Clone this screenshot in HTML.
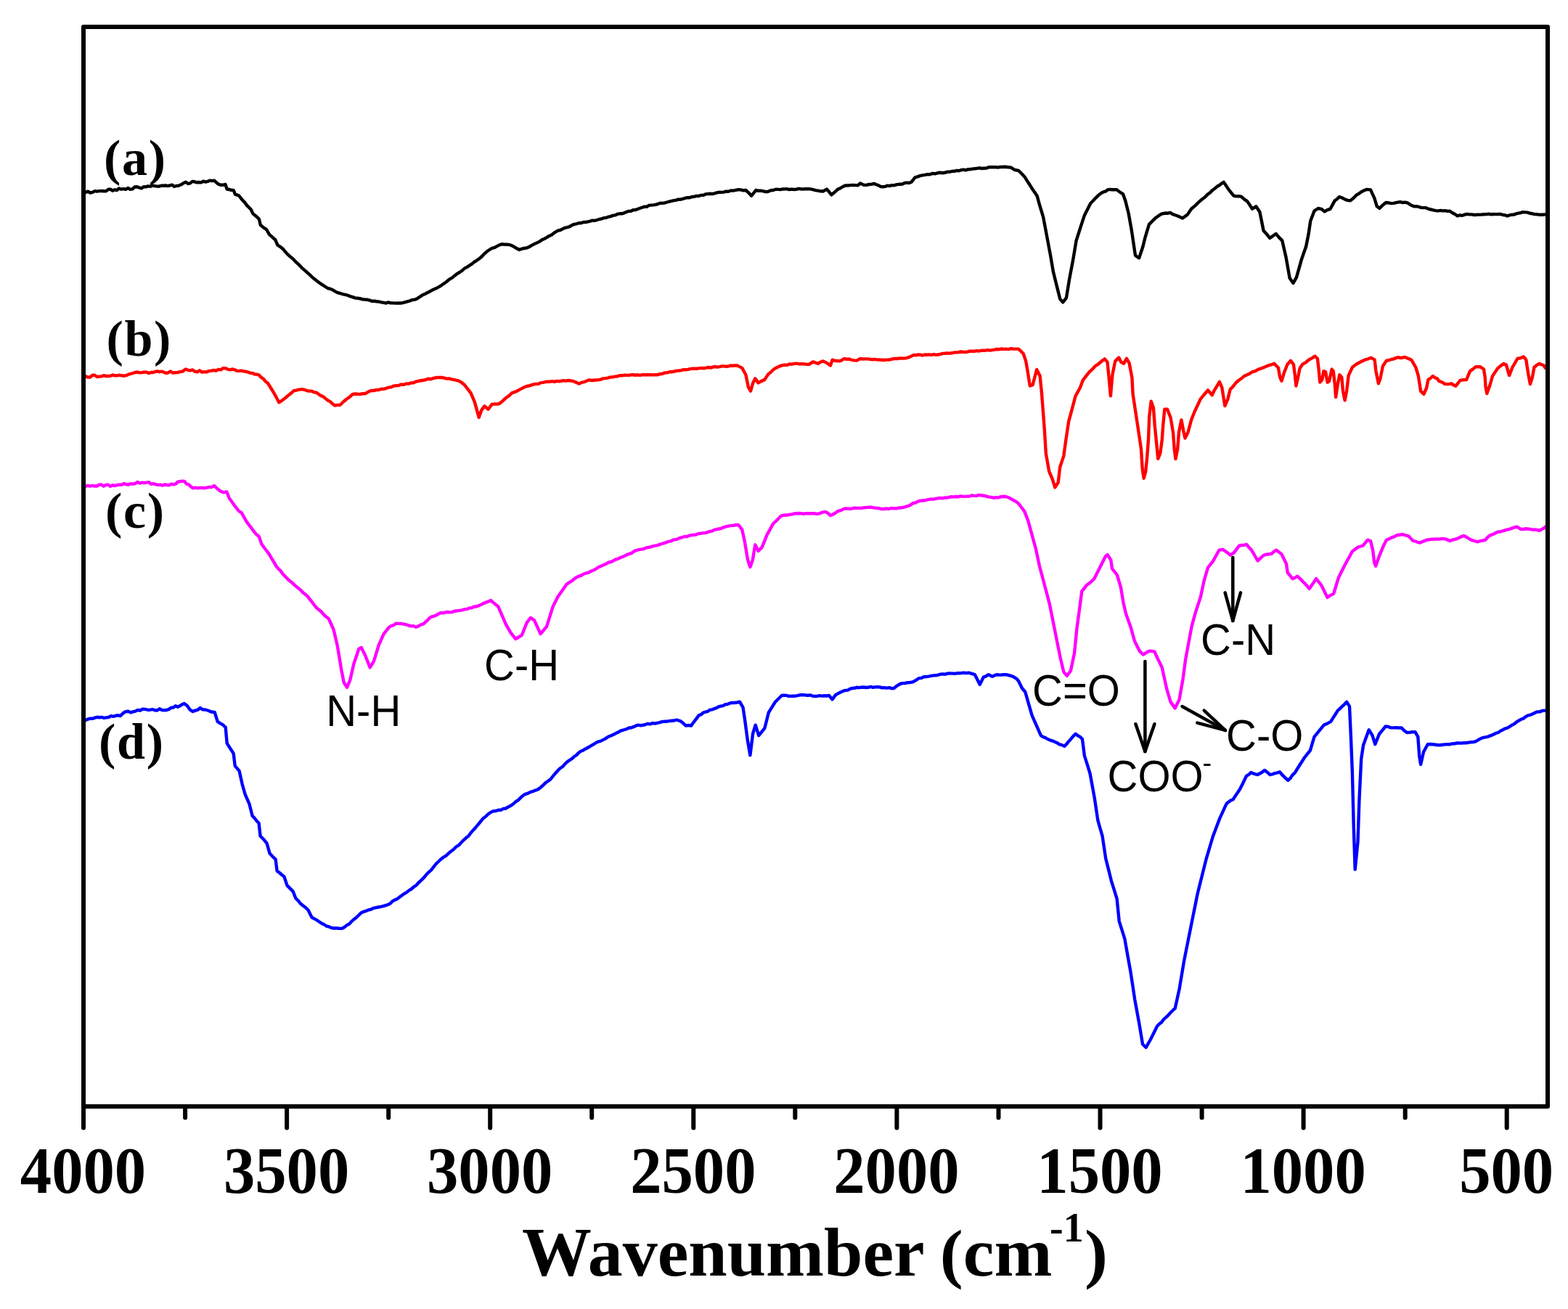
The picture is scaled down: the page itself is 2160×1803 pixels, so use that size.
<!DOCTYPE html>
<html><head><meta charset="utf-8"><style>
html,body{margin:0;padding:0;background:#fff;}
svg{display:block;}
.tl{font-family:"Liberation Serif","Times New Roman",serif;font-weight:bold;font-size:88px;text-anchor:middle;}
.lab{font-family:"Liberation Serif","Times New Roman",serif;font-weight:bold;font-size:70px;letter-spacing:1.7px;}
.ann{font-family:"Liberation Sans",Arial,sans-serif;font-size:58px;}
.ttl{font-family:"Liberation Serif","Times New Roman",serif;font-weight:bold;font-size:96px;}
</style></head><body>
<svg width="2160" height="1803" viewBox="0 0 2160 1803">
<rect x="0" y="0" width="2160" height="1803" fill="#fff"/>
<g fill="none" stroke-width="4.4" stroke-linejoin="round" stroke-linecap="round">
<polyline stroke="#000000" points="118.0,265.0 121.1,263.6 124.3,265.5 127.4,264.9 130.6,263.1 133.7,263.6 136.9,263.1 140.0,263.0 143.0,263.2 146.0,263.4 149.0,261.0 152.0,260.6 155.0,262.7 158.0,261.3 161.0,262.0 164.0,259.5 167.0,260.7 170.1,260.2 173.2,260.8 176.3,259.0 179.4,260.8 182.5,260.4 185.5,257.5 188.6,257.2 191.7,258.4 194.8,259.3 197.9,257.3 201.0,257.4 204.0,256.4 207.0,256.9 210.0,255.6 213.0,256.1 216.0,256.6 219.0,256.7 222.0,255.8 225.0,255.7 228.0,255.5 231.0,256.1 234.0,255.5 237.0,254.6 240.0,256.9 243.0,256.0 246.0,255.7 249.5,254.3 253.0,252.0 256.0,250.8 259.0,253.0 262.0,252.4 265.0,249.9 268.0,250.3 271.0,251.3 274.1,251.0 277.1,251.4 280.1,249.6 283.1,250.6 286.1,249.9 289.1,248.6 292.1,249.2 295.1,248.7 300.3,253.4 303.7,254.7 307.1,254.8 310.5,253.9 312.6,260.5 315.7,261.0 318.7,261.8 321.8,262.1 323.9,267.7 329.0,269.3 334.2,275.9 337.2,278.9 340.3,283.1 345.5,288.3 348.5,294.4 352.6,297.7 356.8,301.6 358.8,309.8 362.9,313.3 367.0,316.0 371.1,323.2 375.2,326.7 379.3,330.4 382.4,337.6 386.0,339.8 389.6,342.7 392.7,346.4 395.8,349.9 399.4,353.2 403.0,356.0 406.6,359.8 410.2,363.2 413.2,366.1 416.3,369.4 419.9,372.4 423.5,375.6 426.9,378.7 430.4,382.1 433.8,384.8 437.9,387.9 442.0,391.0 445.1,392.9 448.3,395.0 451.4,397.0 454.8,397.8 458.3,399.3 461.7,401.4 465.2,403.2 468.6,404.0 472.0,405.1 475.4,405.9 478.9,406.7 482.3,408.1 485.7,409.1 489.1,410.4 492.6,410.8 496.0,411.2 499.5,412.3 502.9,412.6 506.1,412.8 509.3,413.7 512.5,414.8 515.8,414.8 519.0,415.2 522.2,415.5 525.4,416.4 528.6,416.9 531.8,417.5 535.0,416.4 538.2,417.4 541.5,417.4 544.7,417.6 547.9,417.4 551.1,417.5 554.3,417.2 557.7,416.3 561.1,415.4 564.6,414.4 568.0,413.0 571.4,412.6 574.8,411.2 578.3,408.9 581.7,406.6 585.2,405.1 588.6,403.2 592.0,401.5 595.4,399.6 598.9,397.9 602.3,396.4 605.7,394.6 609.1,392.3 612.6,389.9 616.0,387.3 619.5,384.4 622.9,382.6 626.3,379.7 629.7,377.1 633.2,375.0 636.6,372.7 640.0,369.7 643.4,367.8 646.8,365.6 650.3,363.4 653.7,360.5 657.1,358.6 660.5,356.1 664.0,353.0 667.4,349.3 670.9,346.3 674.3,344.0 677.7,341.9 681.1,341.2 684.6,339.1 688.0,337.4 691.4,336.3 694.8,336.7 698.3,336.6 701.7,337.1 705.1,338.3 708.5,340.1 712.0,342.3 715.4,344.0 718.8,342.7 722.3,342.0 725.7,341.4 729.1,340.0 732.6,337.9 736.0,336.1 739.5,334.6 742.9,332.9 746.3,330.4 749.7,329.0 753.2,327.1 756.6,324.9 760.0,323.4 764.3,320.1 768.6,317.7 771.8,317.0 775.0,315.4 778.2,313.8 781.5,313.1 784.7,312.2 787.9,310.1 791.1,308.9 794.3,308.3 797.4,307.2 800.5,307.3 803.7,306.0 806.8,306.0 809.9,305.4 813.0,304.6 816.1,303.6 819.2,303.9 822.4,303.0 825.5,302.0 828.6,301.4 831.7,300.2 834.8,299.9 838.0,298.7 841.1,298.1 844.2,296.9 847.3,296.4 850.4,294.9 853.5,294.3 856.7,294.3 859.8,293.3 862.9,292.0 866.0,290.9 869.1,290.7 872.2,289.2 875.3,289.1 878.4,288.0 881.6,286.8 884.7,285.7 887.8,284.6 890.9,284.8 894.0,282.9 897.1,282.6 900.2,282.4 903.3,281.9 906.5,280.8 909.6,279.7 912.7,279.9 915.8,279.4 918.9,278.5 922.0,277.6 925.2,276.8 928.3,276.1 931.4,275.7 934.5,274.7 937.6,274.7 940.8,273.8 943.9,272.9 947.0,272.1 950.1,272.2 953.2,271.1 956.3,270.8 959.5,269.9 962.6,270.0 965.7,268.9 968.8,268.9 971.9,267.4 975.1,267.1 978.2,266.8 981.3,267.1 984.4,266.4 987.5,265.4 990.6,264.8 993.8,264.9 996.9,264.6 1000.0,263.7 1003.4,263.7 1006.8,262.5 1010.3,262.6 1013.7,261.8 1017.1,261.1 1020.5,261.4 1024.0,262.3 1027.4,262.0 1031.3,265.5 1035.2,269.7 1038.2,265.9 1041.2,262.0 1044.6,262.8 1048.1,262.6 1051.5,263.3 1054.9,264.2 1058.3,263.8 1061.8,262.2 1065.2,262.0 1068.6,260.8 1071.7,260.9 1074.8,261.1 1078.0,260.5 1081.1,260.4 1084.2,260.3 1087.3,261.0 1090.4,260.6 1093.5,261.0 1096.7,260.9 1099.8,259.9 1102.9,260.3 1106.3,260.5 1109.7,260.1 1113.2,260.2 1116.6,260.4 1120.0,261.1 1123.4,262.1 1126.8,262.6 1130.3,263.3 1133.7,263.5 1138.9,260.6 1142.2,264.3 1145.4,268.3 1149.8,264.6 1154.3,260.6 1157.7,259.2 1161.2,257.0 1164.6,255.4 1168.0,255.5 1171.4,255.1 1174.9,254.9 1178.3,255.1 1181.7,255.4 1185.1,252.5 1190.3,254.9 1193.7,254.9 1197.2,254.0 1200.6,253.9 1204.0,252.9 1207.1,254.2 1210.3,255.4 1213.4,257.1 1216.4,257.2 1219.4,256.9 1222.4,255.7 1225.4,256.2 1228.4,255.2 1231.4,255.4 1235.7,254.1 1240.0,253.7 1243.1,253.6 1246.2,252.0 1249.2,251.6 1252.3,252.0 1255.4,250.8 1260.6,244.3 1264.0,243.4 1267.4,242.1 1270.9,241.4 1274.3,240.9 1277.7,240.1 1281.1,240.2 1284.6,238.9 1288.0,239.3 1291.4,238.3 1294.8,237.8 1298.3,238.2 1301.7,237.8 1305.2,236.7 1308.6,236.6 1311.7,235.9 1314.8,235.8 1318.0,234.9 1321.1,235.2 1324.2,234.1 1327.3,233.7 1330.4,234.4 1333.5,233.2 1336.7,233.2 1339.8,232.6 1342.9,232.3 1346.1,231.8 1349.3,231.3 1352.5,232.0 1355.8,231.8 1359.0,231.6 1362.2,230.3 1365.4,230.1 1368.6,230.2 1371.7,230.2 1374.8,230.6 1377.8,230.0 1380.9,230.0 1384.0,229.7 1388.3,230.3 1392.6,230.6 1397.7,234.0 1402.9,234.9 1407.2,238.9 1411.4,243.4 1414.8,248.8 1418.3,254.3 1421.7,259.7 1425.2,264.7 1428.6,269.7 1432.0,282.0 1437.1,298.9 1442.3,326.3 1447.4,353.7 1450.9,374.3 1456.0,394.9 1460.3,412.0 1464.2,416.3 1468.9,410.3 1473.1,384.6 1478.3,357.1 1482.6,331.4 1485.6,322.0 1488.6,312.6 1493.7,297.1 1498.0,288.6 1502.3,280.0 1505.3,277.0 1508.3,273.8 1511.3,270.7 1514.3,268.0 1517.3,265.8 1520.3,264.3 1523.3,263.4 1526.3,261.1 1529.3,261.0 1532.3,261.3 1535.3,261.3 1538.3,261.1 1542.6,264.6 1546.9,267.1 1550.3,276.6 1554.6,293.7 1558.9,317.7 1564.0,352.0 1569.2,355.4 1574.3,340.0 1577.7,326.3 1582.9,309.1 1587.2,304.7 1591.4,300.6 1595.7,297.4 1600.0,294.6 1603.0,294.0 1606.0,293.5 1609.0,293.7 1612.0,292.9 1615.5,295.1 1618.9,296.3 1622.3,297.5 1625.7,299.0 1629.1,300.6 1632.5,298.1 1636.0,295.4 1641.1,287.7 1644.2,285.1 1647.4,282.4 1650.5,279.2 1653.7,276.3 1656.8,273.8 1660.0,271.4 1663.4,267.9 1666.8,265.5 1670.3,261.9 1673.7,259.4 1676.7,256.8 1679.7,255.3 1682.7,252.8 1685.7,250.9 1689.2,256.0 1692.6,261.1 1696.0,265.4 1699.4,269.7 1702.8,270.4 1706.3,270.3 1709.7,270.6 1714.0,274.4 1718.3,277.4 1721.7,282.5 1725.1,287.7 1730.3,284.3 1735.4,292.0 1740.6,317.7 1744.9,322.4 1749.2,328.0 1753.5,325.0 1757.7,322.0 1762.0,327.1 1766.3,331.4 1771.4,353.7 1776.6,382.9 1781.5,390.0 1785.9,382.1 1789.4,369.8 1792.9,357.4 1796.0,348.6 1799.1,339.8 1802.6,322.2 1805.2,304.6 1810.5,290.5 1815.8,287.0 1820.2,287.8 1824.6,291.4 1828.5,289.1 1832.5,287.8 1835.6,282.1 1838.7,276.4 1841.8,274.3 1844.9,271.1 1848.8,272.5 1852.8,274.6 1856.3,275.8 1859.9,276.4 1864.3,273.0 1868.7,268.5 1872.2,266.6 1875.7,264.0 1879.2,262.2 1882.8,260.9 1888.0,261.4 1893.3,272.9 1896.8,284.3 1900.4,286.9 1904.8,282.5 1909.2,279.0 1912.7,279.3 1916.3,280.1 1919.8,279.9 1924.2,278.8 1928.6,278.1 1932.1,279.0 1935.6,278.6 1939.1,279.5 1943.5,282.4 1947.9,284.3 1951.1,284.1 1954.3,284.8 1957.4,285.9 1960.6,286.1 1963.8,286.1 1967.3,287.6 1970.8,288.5 1974.4,289.4 1977.9,290.1 1981.1,290.4 1984.4,289.9 1987.6,290.4 1990.8,290.2 1994.1,290.9 1997.3,290.8 2000.8,293.2 2004.3,295.0 2007.8,297.5 2010.9,296.3 2014.0,296.8 2017.1,295.9 2020.2,294.9 2023.7,295.2 2027.2,295.4 2030.8,296.0 2034.3,295.8 2037.6,295.6 2040.9,295.5 2044.3,295.3 2047.6,295.1 2050.9,294.7 2054.2,295.4 2057.6,295.0 2060.9,295.1 2064.2,294.9 2067.3,295.0 2070.4,296.0 2073.5,296.4 2076.6,297.5 2079.6,296.3 2082.6,295.7 2085.6,295.6 2088.7,294.3 2091.7,293.6 2094.7,293.1 2097.7,292.2 2101.0,292.4 2104.2,292.6 2107.5,293.8 2110.8,294.3 2114.1,295.0 2117.3,295.2 2120.6,295.8 2124.8,295.8 2129.0,295.4"/>
<polyline stroke="#ff0000" points="118.0,518.3 121.1,519.6 124.2,519.5 127.3,516.8 130.4,516.8 133.5,519.0 136.6,518.6 139.7,518.4 142.8,517.2 145.9,518.0 149.0,518.0 152.1,517.8 155.2,516.5 158.3,517.3 161.4,517.4 164.5,516.7 167.6,517.3 170.8,517.7 173.9,517.2 177.0,515.6 180.1,514.9 183.2,514.0 186.3,512.9 189.5,512.5 192.6,513.4 195.7,513.1 198.7,512.5 201.7,512.6 204.8,514.1 207.8,513.0 210.8,513.0 213.8,512.0 216.9,511.3 219.9,512.2 222.9,511.6 225.9,512.7 229.0,514.1 232.0,513.1 235.0,511.5 238.0,513.6 241.1,513.3 244.1,513.1 247.1,512.3 251.4,511.6 255.7,508.5 258.9,509.8 262.1,510.3 265.3,509.5 268.5,511.8 271.8,512.3 275.0,510.3 278.2,512.6 281.4,512.3 284.6,512.4 287.9,511.0 291.1,510.7 294.4,510.0 297.6,510.7 300.9,508.8 304.1,509.3 307.4,507.2 310.6,507.1 313.8,508.7 317.0,509.3 320.2,508.5 323.3,509.3 326.5,510.9 329.7,510.8 332.9,510.6 335.9,511.3 338.9,511.8 341.9,512.6 344.9,513.8 347.9,513.9 350.9,515.6 353.9,515.6 356.9,516.6 359.9,519.9 362.9,521.9 365.9,525.5 368.9,527.7 373.1,534.5 377.4,541.4 380.9,547.8 384.3,554.3 388.6,551.5 392.9,548.3 395.9,545.7 398.9,543.2 401.9,540.8 404.9,538.0 407.9,537.7 410.9,536.9 413.9,536.4 416.9,536.3 420.0,537.0 423.2,538.3 426.3,538.6 429.4,538.7 432.6,540.3 435.7,540.6 438.7,542.8 441.7,544.9 444.7,546.0 447.7,548.3 451.1,551.2 454.5,552.9 458.0,556.2 461.4,558.6 465.0,557.9 468.6,557.7 472.9,553.5 477.1,550.0 481.4,547.0 485.7,543.1 489.1,542.5 492.6,542.8 496.0,543.0 499.5,542.2 502.9,542.3 507.1,539.8 511.4,538.0 514.8,538.0 518.3,537.1 521.7,537.0 525.2,535.8 528.6,535.9 532.0,534.8 535.4,533.6 538.9,533.2 542.3,531.6 545.7,531.1 549.1,531.1 552.6,529.5 556.0,529.9 559.5,528.5 562.9,528.6 566.3,527.4 569.7,527.3 573.2,525.6 576.6,524.8 580.0,524.3 583.4,523.8 586.8,522.8 590.3,521.7 593.7,522.2 597.1,520.9 600.1,520.3 603.2,519.9 606.2,520.0 609.2,520.0 612.6,520.8 616.0,521.6 619.5,521.5 622.9,522.6 627.1,523.3 631.4,524.3 635.7,526.7 640.0,530.3 644.3,535.8 648.6,541.4 653.7,553.4 657.1,565.4 659.7,574.9 663.1,565.4 667.4,559.4 672.6,563.7 677.7,556.9 681.1,556.5 684.6,556.6 688.0,556.0 692.3,552.4 696.6,548.3 700.9,545.3 705.1,541.4 708.5,540.1 712.0,538.7 715.4,536.9 718.8,535.1 722.3,533.2 725.7,532.0 728.9,531.4 732.1,530.3 735.3,529.3 738.5,528.9 741.8,528.7 745.0,527.1 748.2,526.9 751.4,526.0 754.5,525.7 757.6,525.7 760.8,525.1 763.9,525.9 767.0,524.9 770.1,525.2 773.2,524.8 776.3,524.2 779.5,524.7 782.6,524.0 785.7,524.3 788.7,524.8 791.7,525.9 794.7,527.1 797.7,528.6 801.1,526.8 804.5,526.2 808.0,524.7 811.4,523.4 815.7,524.0 820.0,523.5 823.4,523.4 826.8,522.9 830.3,521.4 833.7,521.1 837.1,520.6 840.5,519.6 844.0,519.3 847.4,518.6 850.9,518.2 854.3,517.1 857.3,517.3 860.3,516.7 863.4,516.9 866.4,516.9 869.4,516.3 872.4,516.3 875.5,516.7 878.5,516.3 881.5,516.9 884.5,516.3 887.6,516.1 890.6,516.2 893.6,516.2 896.6,516.1 899.7,516.4 902.7,516.3 905.7,516.3 909.1,515.2 912.6,514.8 916.0,513.4 919.5,513.3 922.9,512.0 926.0,512.2 929.1,511.5 932.2,510.7 935.3,510.5 938.4,510.1 941.6,509.1 944.7,509.2 947.8,508.9 950.9,508.1 954.0,507.6 957.1,507.7 960.2,507.8 963.3,507.1 966.5,507.0 969.6,507.3 972.7,506.7 975.8,506.0 978.9,506.6 982.0,505.7 985.2,505.0 988.3,505.6 991.4,505.1 994.4,504.4 997.4,504.4 1000.4,504.9 1003.4,504.5 1006.4,503.5 1009.4,503.8 1012.4,503.5 1015.4,503.4 1018.8,505.1 1022.3,506.9 1027.4,516.3 1030.9,533.4 1034.0,538.6 1036.9,528.3 1040.3,521.4 1044.6,527.4 1048.9,524.9 1053.2,523.1 1058.3,515.4 1061.7,512.7 1065.2,509.2 1068.6,506.9 1072.8,504.9 1077.1,503.4 1080.5,502.7 1084.0,502.9 1087.4,501.4 1090.9,501.7 1094.3,500.9 1097.7,500.7 1101.2,501.3 1104.6,501.2 1108.0,501.4 1111.5,501.9 1114.9,501.7 1120.0,498.3 1123.5,499.5 1126.9,500.9 1130.3,498.7 1133.7,497.4 1137.1,498.9 1140.6,500.9 1144.0,503.4 1146.6,495.7 1149.7,496.7 1152.9,497.0 1156.0,497.4 1159.5,496.3 1162.9,494.0 1166.3,494.8 1169.7,494.5 1173.2,495.8 1176.6,496.4 1180.0,496.6 1185.1,494.0 1188.3,494.5 1191.6,494.4 1194.8,494.4 1198.1,494.7 1201.3,495.3 1204.6,494.9 1207.8,495.4 1211.1,495.5 1214.3,495.7 1217.4,496.0 1220.5,495.6 1223.7,495.5 1226.8,495.2 1229.9,494.3 1233.0,494.0 1236.1,494.0 1239.2,493.5 1242.4,493.5 1245.5,493.6 1248.6,493.1 1252.0,492.2 1255.5,490.4 1258.9,488.9 1261.9,489.3 1264.9,488.4 1267.9,488.7 1270.9,489.5 1273.9,488.5 1276.9,488.8 1279.9,488.4 1282.9,488.9 1286.0,488.1 1289.1,488.7 1292.2,488.5 1295.3,487.8 1298.4,486.9 1301.6,486.7 1304.7,486.4 1307.8,486.6 1310.9,486.3 1314.0,485.6 1317.1,485.4 1320.2,485.2 1323.3,484.5 1326.5,484.8 1329.6,485.0 1332.7,484.6 1335.8,483.6 1338.9,483.8 1342.0,483.8 1345.2,483.1 1348.3,483.6 1351.4,482.9 1354.5,482.6 1357.6,482.7 1360.8,482.2 1363.9,482.7 1367.0,482.2 1370.1,481.7 1373.2,481.0 1376.3,481.2 1379.5,480.5 1382.6,480.9 1385.7,480.6 1389.1,481.1 1392.6,480.2 1396.0,480.6 1399.5,480.6 1402.9,480.6 1406.3,483.7 1409.7,487.1 1413.2,497.4 1415.7,512.0 1418.8,531.5 1422.6,530.2 1428.2,508.9 1432.6,517.7 1435.1,542.8 1437.0,567.9 1438.9,593.0 1440.8,624.3 1445.2,649.4 1449.6,659.5 1453.3,671.4 1457.7,664.5 1460.2,643.2 1465.3,628.1 1468.4,605.5 1472.2,580.4 1476.6,564.1 1481.6,545.3 1484.8,539.6 1487.9,534.0 1491.6,523.9 1496.0,518.2 1500.4,512.6 1504.8,508.5 1509.2,503.8 1512.3,502.0 1515.5,499.3 1518.6,496.7 1521.7,494.4 1525.5,498.8 1527.4,517.7 1529.9,545.3 1532.4,516.4 1536.2,497.6 1541.2,492.6 1544.3,498.8 1548.1,500.7 1551.9,493.8 1555.6,500.1 1559.4,520.2 1560.6,542.8 1564.4,567.9 1568.2,593.0 1571.9,618.0 1573.8,646.9 1575.7,658.8 1578.2,649.4 1580.1,630.6 1582.0,605.5 1583.2,574.1 1585.7,552.8 1588.9,561.6 1590.8,586.7 1593.3,611.8 1595.2,631.9 1598.3,624.3 1600.8,605.5 1602.1,586.7 1604.3,563.6 1608.0,563.6 1612.5,575.0 1616.0,595.5 1617.7,618.3 1619.4,632.0 1622.2,618.3 1624.0,595.5 1627.4,578.4 1630.2,593.2 1632.5,603.5 1636.5,595.5 1641.1,578.4 1645.6,567.0 1649.6,558.5 1653.6,549.9 1657.0,545.7 1660.5,541.5 1663.9,537.3 1669.6,544.2 1673.0,537.3 1676.5,531.6 1679.9,525.9 1683.3,533.9 1687.3,559.0 1691.3,549.9 1694.7,536.2 1698.7,532.2 1702.7,527.0 1706.5,523.8 1710.3,521.2 1714.1,517.9 1717.9,516.2 1721.7,514.4 1725.5,512.2 1729.3,511.1 1733.1,508.8 1736.9,507.6 1740.7,506.2 1744.5,504.5 1748.3,503.1 1751.8,502.2 1755.2,500.8 1760.9,506.5 1763.1,519.1 1765.4,524.8 1768.9,513.4 1773.4,502.0 1778.0,496.8 1782.0,502.0 1783.7,515.6 1785.4,531.6 1788.2,519.1 1790.5,507.6 1794.3,501.7 1798.6,499.3 1802.9,495.7 1807.2,493.3 1811.4,490.6 1814.9,494.0 1816.6,508.6 1818.3,526.6 1821.3,523.1 1823.4,511.1 1826.0,512.0 1828.6,526.6 1831.1,524.9 1834.6,508.6 1836.7,511.1 1838.9,530.0 1840.1,547.1 1842.7,530.0 1845.3,516.3 1848.3,519.7 1850.0,538.6 1852.6,551.4 1855.1,538.6 1857.7,517.1 1862.9,506.0 1867.2,502.4 1871.4,500.0 1875.7,497.8 1880.0,495.7 1884.3,494.5 1888.6,492.7 1893.7,495.7 1895.4,511.1 1898.9,528.3 1901.4,521.4 1904.9,504.3 1910.0,496.6 1913.2,496.2 1916.5,495.0 1919.7,494.4 1922.9,493.1 1926.1,492.2 1929.3,493.0 1932.5,492.5 1935.7,491.9 1940.0,493.9 1944.3,495.7 1947.3,500.9 1950.3,506.0 1953.7,517.1 1957.1,538.6 1961.4,542.9 1965.1,534.3 1967.3,523.1 1970.5,521.0 1973.7,518.0 1976.7,520.2 1979.7,521.4 1982.3,524.9 1986.6,526.5 1990.9,529.1 1995.2,529.1 1999.4,528.3 2002.4,530.3 2005.4,531.7 2008.4,527.9 2011.4,524.0 2015.7,523.2 2020.0,523.1 2025.1,511.1 2029.0,508.4 2032.9,505.1 2035.9,505.2 2038.9,505.1 2044.0,508.6 2045.7,519.7 2046.5,532.6 2048.3,542.0 2052.6,530.0 2056.0,518.0 2059.4,512.9 2062.9,507.7 2067.2,503.9 2071.4,500.9 2074.9,502.6 2079.1,517.1 2083.4,506.0 2086.9,500.0 2090.3,494.0 2094.6,493.1 2098.9,491.4 2102.3,495.7 2104.9,512.9 2107.9,529.1 2110.9,519.7 2113.4,506.0 2116.9,503.0 2120.3,500.9 2123.3,502.1 2126.3,503.0 2129.0,507.0"/>
<polyline stroke="#ff00ff" points="118.0,669.7 121.1,668.8 124.2,669.6 127.3,668.9 130.4,669.5 133.5,669.5 136.6,667.7 139.7,667.4 142.8,669.7 145.9,667.9 149.0,667.7 152.1,669.9 155.2,668.2 158.3,669.1 161.4,668.0 164.5,667.6 167.6,667.8 170.8,666.0 173.9,667.2 177.0,667.6 180.1,666.2 183.2,666.6 186.3,666.0 189.5,663.9 192.6,665.7 195.7,664.6 198.8,665.2 201.9,664.6 205.1,664.1 208.2,666.9 211.3,666.1 214.4,667.1 217.5,667.9 220.6,667.7 223.8,668.6 226.9,667.4 230.0,668.0 233.0,668.3 236.0,666.6 239.0,667.4 242.0,666.6 245.0,663.6 248.0,663.1 251.0,662.7 254.0,662.9 257.0,666.6 260.0,667.4 263.0,670.3 266.0,672.3 269.1,671.7 272.2,672.3 275.2,672.0 278.3,671.9 281.4,672.3 284.8,671.7 288.3,670.9 291.8,671.0 295.2,668.9 299.4,673.3 303.7,676.6 308.0,678.3 312.3,677.4 315.7,686.0 320.0,692.0 324.3,698.0 328.6,703.4 332.9,706.6 336.3,712.6 339.7,718.6 343.1,723.2 346.6,727.7 350.0,732.3 353.4,736.3 356.9,739.1 360.3,749.4 363.7,754.0 367.2,758.5 370.6,763.1 374.0,768.8 377.5,774.6 380.9,780.3 383.9,783.9 386.9,786.7 389.9,791.0 392.9,794.0 396.3,797.6 399.7,800.6 403.2,803.3 406.6,806.6 410.0,809.4 413.4,812.1 416.9,815.8 420.3,818.5 423.7,821.4 426.7,825.3 429.7,829.1 432.7,833.0 435.7,836.9 439.1,839.7 442.6,842.5 446.0,846.6 449.5,849.8 452.9,852.3 456.3,860.0 459.7,867.7 464.9,890.0 470.3,922.9 473.7,940.0 478.0,946.9 482.3,936.6 487.4,914.3 490.9,904.0 494.3,893.7 497.7,892.0 502.9,902.3 506.3,910.8 509.7,919.4 514.9,910.9 518.3,899.8 521.7,888.6 525.2,880.9 528.6,873.1 532.0,868.9 535.4,864.6 538.8,862.1 542.3,861.0 545.7,858.6 549.1,858.9 552.5,859.0 556.0,859.6 559.4,860.3 562.8,861.5 566.2,862.4 569.7,862.3 573.1,863.7 576.5,862.4 580.0,860.3 583.4,859.4 587.7,855.4 592.0,850.9 595.1,849.3 598.2,848.6 601.2,847.3 604.3,845.4 607.4,844.0 610.5,844.4 613.6,843.4 616.7,843.0 619.8,843.4 622.9,843.1 626.3,841.8 629.7,841.3 633.1,840.9 636.6,840.4 640.0,839.2 643.4,838.9 646.5,837.4 649.7,837.3 652.8,835.7 656.0,835.5 659.1,834.4 662.3,832.9 665.7,831.3 669.1,829.9 672.6,828.4 676.0,826.9 679.4,829.9 682.9,832.7 686.3,835.4 689.7,843.4 693.2,851.4 696.6,859.4 700.0,865.4 703.4,871.4 706.8,875.7 710.3,880.0 714.6,877.5 718.9,874.9 722.3,866.3 725.7,857.7 730.9,850.9 736.0,854.3 740.3,863.7 744.6,873.1 748.9,868.0 753.1,862.9 757.4,849.1 761.7,835.4 765.2,828.5 768.6,821.7 771.6,817.4 774.6,813.2 777.6,808.9 780.6,804.6 784.0,802.4 787.5,800.4 790.9,797.5 794.3,795.1 797.5,793.7 800.7,792.7 803.9,790.7 807.1,789.5 810.4,788.9 813.6,787.0 816.8,785.7 820.0,784.3 824.3,781.3 828.6,779.4 831.8,777.9 835.0,776.7 838.2,774.7 841.5,774.0 844.7,772.6 847.9,770.5 851.1,769.8 854.3,768.3 857.5,766.9 860.7,765.7 863.9,763.9 867.1,762.9 870.4,761.6 873.6,759.3 876.8,758.0 880.0,757.1 883.2,756.6 886.4,756.2 889.6,754.6 892.9,754.0 896.1,753.5 899.3,752.4 902.5,751.7 905.7,751.1 908.8,749.9 911.9,748.9 915.1,748.2 918.2,746.8 921.3,745.9 924.4,745.4 927.5,743.5 930.6,743.1 933.8,742.3 936.9,740.8 940.0,740.0 943.1,739.0 946.2,739.1 949.4,737.8 952.5,737.1 955.6,736.8 958.7,736.5 961.8,735.1 964.9,734.8 968.1,734.2 971.2,734.1 974.3,733.1 977.5,732.1 980.7,731.6 983.9,729.8 987.1,729.1 990.4,728.5 993.6,727.8 996.8,726.3 1000.0,725.4 1003.4,724.6 1006.8,723.9 1010.3,723.9 1013.7,723.0 1017.1,722.9 1022.3,729.7 1025.7,745.1 1030.0,770.9 1033.4,781.1 1036.9,770.9 1040.3,750.3 1044.6,758.9 1049.7,753.7 1053.2,745.2 1056.6,736.6 1060.9,728.9 1065.2,721.1 1068.6,718.1 1072.0,714.7 1075.4,710.9 1078.6,709.9 1081.7,709.5 1084.8,709.5 1088.0,708.7 1091.2,708.4 1094.3,707.4 1097.4,707.2 1100.5,707.0 1103.7,707.2 1106.8,707.8 1109.9,707.1 1113.0,707.2 1116.1,707.3 1119.2,707.3 1122.4,707.3 1125.5,707.9 1128.6,707.4 1132.9,705.7 1137.2,704.9 1140.6,706.9 1144.0,710.0 1147.4,708.5 1150.9,706.5 1154.3,704.0 1158.6,702.9 1162.9,700.6 1166.3,700.4 1169.7,700.8 1173.2,700.6 1176.6,699.6 1180.0,699.8 1183.4,699.9 1186.8,699.7 1190.3,699.3 1193.7,698.9 1197.1,698.6 1200.5,698.8 1204.0,699.4 1207.4,699.8 1210.9,700.1 1214.3,701.1 1217.7,701.0 1221.1,700.5 1224.6,701.0 1228.0,699.9 1231.4,700.3 1234.8,700.3 1238.3,699.5 1241.7,699.2 1245.2,698.7 1248.6,697.7 1251.7,696.8 1254.8,695.1 1257.8,693.0 1260.9,692.6 1264.0,690.9 1267.2,689.9 1270.3,689.5 1273.5,689.3 1276.6,688.6 1279.8,687.9 1282.9,687.4 1286.0,687.6 1289.1,686.9 1292.2,686.3 1295.3,685.9 1298.4,686.3 1301.6,685.5 1304.7,685.6 1307.8,684.7 1310.9,684.3 1314.0,684.4 1317.1,684.0 1320.2,684.2 1323.3,683.3 1326.5,683.9 1329.6,683.9 1332.7,683.6 1335.8,683.5 1338.9,682.3 1342.0,682.9 1345.2,683.0 1348.3,681.9 1351.4,682.3 1354.8,682.7 1358.3,683.4 1361.7,684.4 1365.2,684.9 1368.6,685.7 1372.0,685.3 1375.4,685.4 1378.9,684.1 1382.3,683.8 1385.7,684.0 1389.1,685.3 1392.6,686.9 1396.0,689.1 1399.5,690.7 1402.9,693.4 1407.2,699.0 1411.4,704.6 1416.6,718.3 1421.7,737.1 1426.9,756.0 1432.0,780.0 1435.5,792.9 1438.9,805.7 1442.3,818.5 1445.7,831.4 1450.9,857.2 1456.0,882.9 1461.2,908.6 1465.4,925.7 1469.7,930.9 1474.9,924.0 1480.0,900.0 1483.4,865.7 1486.9,840.0 1490.3,814.3 1493.8,810.0 1497.2,805.7 1500.6,803.4 1504.0,800.4 1507.4,797.1 1511.7,788.5 1516.0,780.0 1519.5,773.1 1522.9,766.3 1525.5,764.0 1530.3,771.4 1532.0,783.4 1535.5,787.7 1538.9,792.0 1544.0,809.1 1547.4,829.7 1550.9,845.1 1554.3,854.5 1557.7,864.0 1562.9,882.9 1566.3,889.8 1569.7,896.6 1574.9,901.7 1579.2,898.7 1583.4,896.6 1586.8,897.0 1590.3,897.4 1595.4,908.6 1600.6,918.9 1604.0,934.3 1607.4,949.7 1612.6,966.9 1615.6,971.1 1618.6,975.4 1621.6,969.4 1624.6,963.4 1629.7,934.3 1633.1,908.6 1636.6,889.7 1641.7,862.3 1646.9,843.4 1650.3,833.1 1653.7,822.9 1658.9,798.9 1664.0,781.7 1667.5,777.4 1670.9,773.1 1675.2,765.4 1679.4,757.7 1684.6,756.9 1688.0,759.2 1691.5,761.8 1694.9,764.6 1700.0,761.1 1703.5,756.4 1706.9,751.7 1710.3,751.0 1713.8,750.7 1717.2,750.0 1720.6,754.0 1724.0,757.7 1728.3,765.0 1732.6,772.3 1736.8,768.3 1741.1,764.6 1744.5,763.7 1748.0,763.3 1751.4,762.9 1754.8,759.8 1758.3,757.7 1761.8,760.4 1765.2,762.9 1768.6,769.8 1772.0,776.6 1773.7,788.6 1777.2,792.9 1780.6,797.1 1784.0,795.7 1787.4,793.7 1791.7,797.9 1796.0,802.3 1799.8,806.1 1803.7,810.9 1806.8,806.3 1810.0,801.7 1813.1,797.1 1816.5,801.4 1820.0,805.7 1824.3,814.3 1828.6,822.9 1832.9,819.9 1837.2,817.7 1840.6,806.5 1844.0,795.4 1848.3,786.8 1852.6,778.3 1856.0,772.0 1859.5,765.7 1862.9,759.4 1867.2,756.2 1871.4,753.4 1874.6,752.5 1877.7,751.4 1880.9,747.5 1884.1,743.7 1888.0,745.0 1891.2,757.9 1893.1,774.6 1895.1,779.7 1899.6,766.9 1902.8,759.1 1906.0,751.4 1909.9,743.7 1913.4,742.4 1917.0,740.4 1920.5,739.3 1924.0,737.3 1927.8,736.8 1931.7,736.0 1934.7,736.8 1937.7,737.6 1940.7,738.6 1945.9,744.4 1949.3,745.5 1952.7,746.8 1956.1,747.6 1959.1,746.2 1962.1,745.2 1965.1,743.7 1968.6,743.3 1972.2,742.7 1975.8,742.8 1979.3,742.4 1983.2,742.6 1987.0,741.9 1990.9,742.4 1994.1,743.6 1997.3,745.0 2000.8,743.6 2004.3,742.9 2007.9,741.7 2011.4,739.9 2016.6,737.9 2020.4,740.0 2024.3,742.4 2028.2,744.2 2032.0,745.3 2035.9,746.3 2039.3,745.1 2042.7,744.5 2046.1,743.7 2049.3,740.0 2052.6,737.3 2056.0,736.2 2059.5,734.5 2062.9,732.8 2066.1,732.5 2069.3,731.6 2072.5,730.6 2075.7,729.6 2079.2,728.9 2082.8,727.7 2086.3,726.2 2089.9,725.7 2095.0,728.9 2098.2,729.0 2101.4,728.3 2104.7,728.5 2107.9,728.9 2111.1,729.7 2114.3,729.4 2117.5,729.9 2120.7,730.9 2123.9,728.8 2127.1,727.6 2129.0,725.5"/>
<polyline stroke="#0000ff" points="118.0,992.0 121.1,990.6 124.3,989.6 127.4,989.9 130.6,988.6 133.7,987.8 136.9,988.2 140.0,987.9 143.2,988.9 146.5,988.3 149.7,988.0 152.9,986.1 156.2,986.8 159.4,985.8 162.7,985.3 165.9,986.0 169.9,982.0 173.2,980.2 176.6,979.8 179.9,981.3 183.2,980.3 186.6,979.6 189.9,978.0 193.2,978.7 196.5,976.7 199.9,976.9 203.2,977.7 206.5,977.9 209.8,977.0 213.1,978.2 216.5,978.5 219.8,976.3 223.1,978.0 226.5,978.3 229.8,978.0 232.8,976.9 235.8,974.8 238.8,974.5 241.8,972.3 244.8,973.7 247.8,972.3 250.8,970.3 253.8,969.0 257.8,972.1 261.7,977.6 265.7,980.0 269.0,978.6 272.4,977.8 275.7,975.0 279.2,977.3 282.7,977.5 286.2,978.5 289.7,980.0 292.7,980.8 295.7,981.0 299.7,993.9 303.4,996.4 307.0,998.2 310.7,1001.9 312.7,1023.9 315.7,1028.6 318.7,1033.2 321.7,1037.9 323.7,1054.8 329.6,1061.8 333.6,1079.8 337.6,1093.8 340.6,1100.8 343.6,1107.7 347.6,1123.7 350.6,1126.8 353.6,1130.7 356.6,1133.7 358.6,1151.7 361.6,1154.5 364.6,1157.8 367.6,1161.7 371.6,1175.6 375.6,1179.8 379.6,1183.6 381.6,1199.6 384.9,1202.0 388.2,1205.0 391.5,1207.6 395.5,1219.6 399.5,1223.6 403.5,1227.6 407.5,1237.5 410.8,1240.6 414.2,1244.8 417.5,1247.5 421.0,1250.1 424.5,1253.5 429.5,1263.5 432.8,1265.4 436.2,1267.1 439.5,1269.5 442.8,1271.7 446.2,1273.2 449.5,1275.5 452.8,1276.3 456.1,1277.8 459.4,1278.5 463.2,1278.4 467.0,1278.8 470.8,1278.9 474.2,1277.3 477.7,1274.3 481.1,1272.7 484.4,1269.1 487.7,1266.2 490.9,1263.8 494.2,1260.5 497.5,1257.3 500.9,1255.8 504.3,1254.7 507.8,1253.3 511.2,1252.5 514.6,1250.8 518.0,1250.1 521.3,1249.5 524.6,1248.9 527.9,1248.2 531.2,1247.1 534.5,1246.0 537.6,1244.5 540.7,1241.3 543.8,1239.6 546.8,1238.4 549.9,1236.1 553.0,1233.7 556.4,1231.2 559.8,1229.4 563.2,1226.6 566.7,1224.5 570.1,1221.5 573.5,1219.3 576.9,1215.5 580.4,1212.4 583.8,1209.0 587.2,1204.8 590.6,1201.4 594.0,1198.3 597.5,1193.8 600.9,1189.7 604.3,1186.5 607.7,1183.2 611.1,1180.6 614.5,1178.6 618.0,1175.3 621.4,1172.5 624.8,1170.0 628.2,1166.4 631.7,1164.4 635.1,1160.7 638.5,1157.3 642.0,1154.1 645.4,1151.5 648.8,1146.9 652.3,1142.9 655.7,1139.2 659.1,1135.1 662.5,1131.0 665.9,1126.9 669.3,1124.4 672.8,1121.0 676.2,1118.7 679.6,1117.3 683.0,1117.0 686.5,1115.8 689.9,1115.8 693.3,1113.9 696.7,1113.5 700.1,1111.5 703.6,1109.8 707.0,1107.4 710.6,1104.2 714.2,1101.8 717.8,1098.1 721.4,1095.1 724.5,1093.6 727.6,1092.6 730.6,1090.9 733.7,1090.2 736.8,1088.8 739.9,1087.9 743.0,1086.0 746.0,1083.5 749.1,1080.7 752.2,1077.7 755.2,1075.6 758.3,1073.5 761.7,1069.1 765.2,1064.9 768.6,1061.2 771.9,1058.0 775.2,1055.9 778.4,1052.1 781.7,1049.1 785.0,1046.8 788.0,1044.9 791.0,1042.0 794.0,1040.1 797.0,1037.0 800.0,1034.7 803.0,1033.6 806.0,1031.7 809.0,1030.2 812.1,1028.5 815.1,1026.6 818.1,1025.0 821.1,1023.0 824.1,1021.6 827.2,1020.9 830.2,1019.4 833.2,1017.9 836.2,1015.9 839.2,1014.2 842.2,1013.1 845.2,1011.8 848.3,1010.1 851.3,1008.8 854.3,1006.9 857.4,1005.9 860.5,1005.0 863.6,1004.0 866.7,1002.5 869.8,1002.2 872.9,1001.2 876.0,999.6 879.3,998.6 882.5,999.3 885.8,998.8 889.0,998.0 892.3,996.8 895.6,997.4 898.8,996.0 902.1,996.6 905.3,995.8 908.6,995.1 912.0,994.1 915.3,993.7 918.7,993.7 922.0,993.1 925.4,992.8 928.7,992.5 932.1,991.5 937.5,993.3 941.1,996.1 944.8,999.6 948.4,999.0 952.0,999.6 955.6,994.8 959.3,989.9 962.9,985.1 965.9,984.1 968.9,981.5 971.9,980.6 974.9,979.9 977.9,977.7 981.0,977.4 984.0,976.1 987.0,975.1 990.0,973.4 993.0,972.6 996.0,972.1 999.0,970.3 1002.1,970.0 1005.1,968.7 1008.1,968.0 1011.7,968.0 1015.4,967.5 1019.0,966.7 1023.5,974.3 1026.2,992.4 1029.8,1019.5 1033.4,1040.3 1037.1,1010.5 1040.7,998.7 1045.2,1013.2 1049.2,1008.2 1053.3,1003.2 1058.8,981.5 1061.8,976.7 1064.8,971.8 1067.8,967.0 1070.8,964.0 1073.9,961.0 1076.9,958.0 1080.1,957.7 1083.2,957.9 1086.3,958.8 1089.5,958.9 1092.5,958.6 1095.5,958.7 1098.5,958.1 1101.6,957.3 1104.6,957.2 1107.6,957.1 1110.6,957.7 1113.6,957.7 1116.7,957.4 1119.7,958.7 1122.7,959.0 1125.7,958.9 1129.0,958.2 1132.2,958.6 1135.5,958.2 1138.7,958.5 1142.0,958.0 1146.5,963.4 1151.1,957.1 1154.7,955.1 1158.3,953.2 1161.9,951.7 1164.9,950.9 1167.9,950.6 1171.0,948.8 1174.0,948.0 1177.0,947.8 1180.0,946.8 1183.2,947.2 1186.4,946.7 1189.6,946.5 1192.8,947.0 1196.1,946.8 1199.3,945.9 1202.5,946.8 1205.7,946.3 1208.9,946.1 1212.1,946.5 1215.3,947.3 1218.6,947.1 1221.8,947.7 1225.0,947.2 1228.2,948.2 1231.4,948.0 1235.7,944.6 1240.0,942.0 1243.4,941.1 1246.8,941.0 1250.3,940.2 1253.7,940.0 1257.1,939.4 1261.4,937.3 1265.7,934.3 1269.1,933.9 1272.6,932.3 1276.0,932.0 1279.5,931.6 1282.9,930.9 1286.1,930.4 1289.3,930.3 1292.5,929.6 1295.8,928.6 1299.0,928.4 1302.2,928.7 1305.4,927.7 1308.6,927.4 1311.8,927.6 1315.0,927.8 1318.2,927.3 1321.4,927.2 1324.7,927.0 1327.9,926.6 1331.1,927.2 1334.3,926.6 1338.6,927.9 1342.9,929.2 1346.3,936.0 1349.7,942.9 1354.9,932.6 1358.3,931.4 1361.7,929.2 1366.9,931.7 1370.3,930.2 1373.7,929.2 1376.7,929.6 1379.7,929.5 1382.7,929.3 1385.7,929.2 1389.2,930.0 1392.6,930.9 1396.3,932.3 1400.0,934.6 1402.9,937.7 1408.0,948.0 1412.3,953.0 1415.4,963.8 1418.5,974.6 1421.6,985.4 1424.7,992.4 1427.8,999.3 1430.8,1006.2 1433.9,1013.2 1437.0,1015.1 1440.1,1016.1 1443.1,1018.0 1446.2,1019.3 1449.5,1020.3 1452.9,1021.7 1456.2,1023.2 1459.5,1025.4 1462.9,1026.1 1466.2,1027.9 1469.3,1024.9 1472.4,1020.9 1475.4,1017.7 1478.5,1014.0 1481.6,1010.7 1484.7,1013.2 1487.8,1014.9 1490.9,1017.8 1493.9,1040.9 1497.8,1053.2 1501.6,1065.5 1504.7,1082.5 1507.8,1099.4 1512.4,1130.2 1515.5,1141.0 1518.6,1151.7 1523.2,1182.5 1527.1,1197.9 1530.9,1213.3 1534.8,1225.7 1538.6,1238.0 1541.7,1268.8 1545.6,1281.1 1549.4,1293.4 1553.2,1315.0 1557.1,1336.5 1560.2,1356.5 1563.2,1376.6 1566.3,1393.5 1569.4,1410.4 1574.0,1438.2 1578.6,1442.8 1581.7,1437.4 1584.8,1432.0 1587.9,1425.8 1590.9,1419.7 1594.0,1413.5 1597.1,1410.3 1600.2,1407.9 1603.2,1403.9 1606.3,1401.2 1609.4,1398.3 1612.5,1394.8 1615.6,1391.7 1618.7,1388.9 1621.8,1375.1 1624.8,1361.2 1627.9,1342.7 1631.0,1324.2 1634.0,1308.8 1637.1,1293.4 1640.2,1278.0 1643.3,1262.6 1646.4,1247.2 1649.5,1231.8 1652.5,1219.5 1655.6,1207.2 1658.7,1194.8 1661.8,1182.5 1664.9,1172.2 1667.9,1162.0 1671.0,1151.7 1674.1,1143.5 1677.2,1135.3 1680.3,1127.1 1683.4,1120.4 1686.4,1113.8 1689.5,1107.1 1692.6,1104.5 1695.6,1102.4 1698.7,1100.9 1701.8,1096.3 1704.9,1091.7 1708.0,1087.1 1711.1,1080.9 1714.1,1074.8 1717.2,1068.6 1720.3,1066.8 1723.4,1064.0 1726.5,1065.4 1729.5,1066.4 1732.6,1067.0 1735.7,1065.3 1738.8,1063.5 1741.9,1060.9 1745.7,1063.6 1749.5,1067.1 1752.8,1066.3 1756.2,1065.2 1759.6,1064.3 1762.9,1063.3 1766.7,1067.7 1770.5,1071.3 1774.3,1074.8 1777.5,1071.9 1780.6,1067.3 1783.8,1064.3 1787.1,1059.0 1790.4,1053.8 1793.8,1048.5 1797.1,1043.3 1800.9,1038.5 1804.8,1033.8 1810.5,1014.8 1813.8,1010.8 1817.2,1006.7 1820.5,1002.6 1823.8,998.6 1827.0,997.2 1830.1,995.6 1833.3,993.8 1836.5,988.7 1839.7,983.7 1842.9,978.6 1846.0,975.9 1849.1,972.8 1852.1,970.1 1855.2,966.8 1859.0,972.9 1861.0,1016.7 1862.9,1064.3 1864.8,1140.5 1866.7,1197.6 1870.5,1159.5 1872.4,1102.4 1875.2,1045.2 1878.1,1026.2 1881.9,1015.7 1885.7,1005.2 1890.5,1012.9 1894.3,1025.2 1900.0,1011.0 1904.3,1005.8 1908.6,1000.5 1912.1,1000.9 1915.5,1002.3 1919.0,1002.4 1922.8,1002.3 1926.7,1002.5 1930.5,1002.4 1934.3,1006.2 1938.1,1009.0 1941.9,1008.9 1945.7,1008.2 1949.5,1008.1 1953.3,1014.8 1955.2,1041.4 1957.1,1052.9 1961.0,1035.7 1966.7,1025.2 1970.2,1025.0 1973.7,1025.2 1977.2,1025.7 1980.6,1026.2 1984.1,1026.2 1987.6,1025.8 1990.8,1025.4 1994.0,1025.1 1997.1,1025.3 2000.3,1024.4 2003.5,1024.3 2006.7,1023.5 2009.8,1023.5 2013.0,1023.6 2016.2,1023.3 2019.5,1023.2 2022.8,1022.8 2026.2,1022.2 2029.5,1022.0 2032.6,1021.3 2035.6,1019.6 2038.7,1017.8 2041.7,1016.4 2044.8,1015.7 2048.0,1015.2 2051.1,1014.1 2054.3,1012.9 2057.5,1011.4 2060.6,1009.9 2063.8,1009.0 2067.0,1006.8 2070.2,1005.2 2073.4,1003.5 2076.5,1002.6 2079.7,1000.8 2082.9,998.6 2086.1,997.0 2089.2,994.3 2092.4,992.5 2095.6,990.7 2098.7,989.6 2101.9,987.1 2104.9,985.4 2108.0,984.8 2111.0,983.4 2114.1,981.9 2117.1,980.5 2121.1,980.4 2125.0,978.9 2129.0,978.6"/>
</g><g stroke="#000" stroke-width="6" stroke-linecap="round">
<line x1="115.0" y1="1524" x2="115.0" y2="1553.5"/><line x1="255.1" y1="1524" x2="255.1" y2="1539.5"/><line x1="395.1" y1="1524" x2="395.1" y2="1553.5"/><line x1="535.2" y1="1524" x2="535.2" y2="1539.5"/><line x1="675.2" y1="1524" x2="675.2" y2="1553.5"/><line x1="815.2" y1="1524" x2="815.2" y2="1539.5"/><line x1="955.3" y1="1524" x2="955.3" y2="1553.5"/><line x1="1095.3" y1="1524" x2="1095.3" y2="1539.5"/><line x1="1235.4" y1="1524" x2="1235.4" y2="1553.5"/><line x1="1375.5" y1="1524" x2="1375.5" y2="1539.5"/><line x1="1515.5" y1="1524" x2="1515.5" y2="1553.5"/><line x1="1655.6" y1="1524" x2="1655.6" y2="1539.5"/><line x1="1795.6" y1="1524" x2="1795.6" y2="1553.5"/><line x1="1935.7" y1="1524" x2="1935.7" y2="1539.5"/><line x1="2075.7" y1="1524" x2="2075.7" y2="1553.5"/>
</g>
<rect x="115" y="37" width="2017" height="1487" fill="none" stroke="#000" stroke-width="6" stroke-linejoin="round"/><g stroke="#000" stroke-width="4.5" stroke-linecap="round" fill="none">
<line x1="1698.3" y1="768" x2="1698.3" y2="855"/><line x1="1687.6" y1="816.4" x2="1698.3" y2="855"/><line x1="1709.0" y1="816.4" x2="1698.3" y2="855"/>
<line x1="1577.4" y1="911" x2="1577.4" y2="1035"/><line x1="1564.4" y1="997.2" x2="1577.4" y2="1035"/><line x1="1590.4" y1="997.2" x2="1577.4" y2="1035"/>
<line x1="1628.5" y1="973" x2="1687.9" y2="1005.9"/><line x1="1649.3" y1="995.6" x2="1687.9" y2="1005.9"/><line x1="1658.7" y1="978.6" x2="1687.9" y2="1005.9"/>
</g><g class="tl"><text transform="translate(114.5 1643) scale(0.985 1.04)">4000</text><text transform="translate(394.6 1643) scale(0.985 1.04)">3500</text><text transform="translate(674.7 1643) scale(0.985 1.04)">3000</text><text transform="translate(954.8 1643) scale(0.985 1.04)">2500</text><text transform="translate(1234.9 1643) scale(0.985 1.04)">2000</text><text transform="translate(1515.0 1643) scale(0.985 1.04)">1500</text><text transform="translate(1795.1 1643) scale(0.985 1.04)">1000</text><text transform="translate(2075.2 1643) scale(0.985 1.04)">500</text></g>
<text class="lab" x="143.1" y="240.6">(a)</text>
<text class="lab" x="146.4" y="489.6">(b)</text>
<text class="lab" x="145.1" y="726.6">(c)</text>
<text class="lab" x="136.1" y="1044.5">(d)</text>
<text class="ann" transform="translate(449.2 1000) scale(1 1.05)">N-H</text>
<text class="ann" transform="translate(667 936.5) scale(1 1.05)">C-H</text>
<text class="ann" transform="translate(1422 972) scale(1 1.05)">C=O</text>
<text class="ann" transform="translate(1654 901.5) scale(1 1.05)">C-N</text>
<text class="ann" transform="translate(1525.5 1090) scale(1 1.05)">COO</text>
<text class="ann" style="font-size:38px" x="1656.5" y="1064">-</text>
<text class="ann" transform="translate(1689 1033.5) scale(1 1.05)">C-O</text>
<text class="ttl" x="719" y="1757">Wavenumber</text>
<text class="ttl" transform="translate(1294.8 1757) scale(1 0.951)">(</text>
<text class="ttl" x="1326.8" y="1757">cm</text>
<text class="ttl" x="1446" y="1710" style="font-size:56px">-1</text>
<text class="ttl" transform="translate(1494 1757) scale(1 0.951)">)</text>
</svg>
</body></html>
